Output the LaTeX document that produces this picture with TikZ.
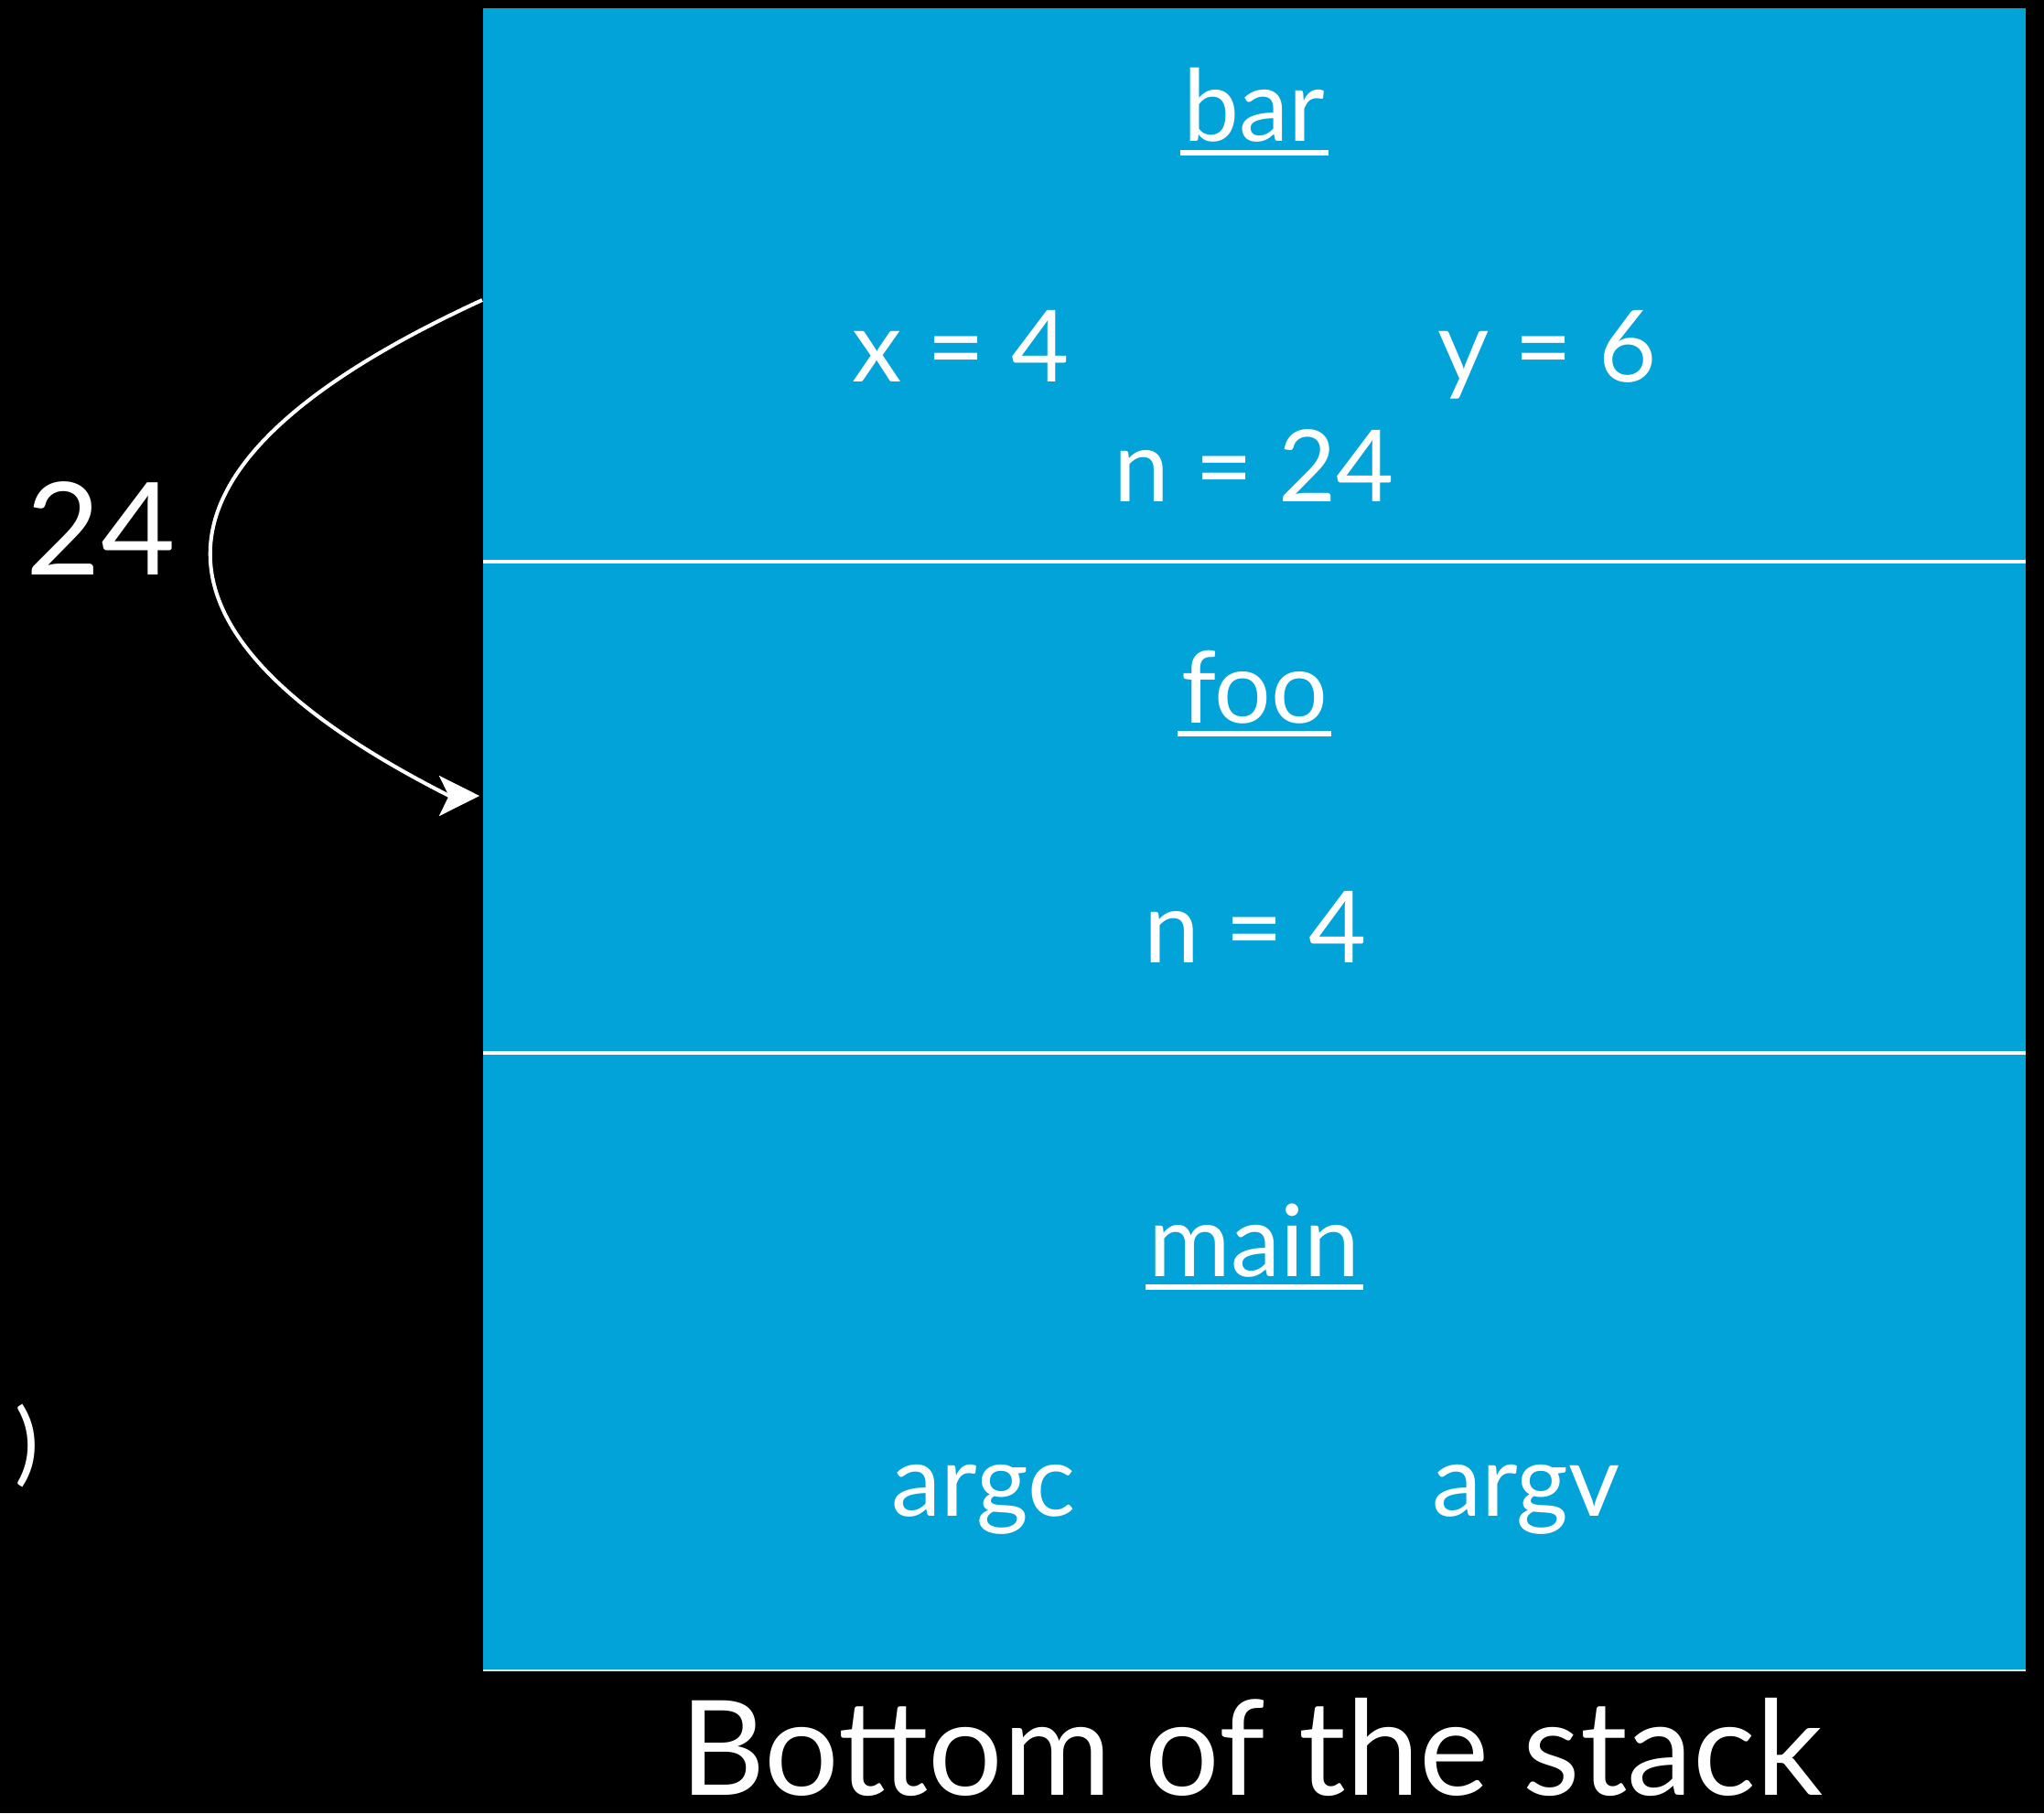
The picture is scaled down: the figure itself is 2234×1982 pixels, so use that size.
\documentclass[tikz,border=0pt]{standalone}
\usepackage{fontspec}
\setmainfont{Lato}
\usetikzlibrary{arrows.meta}
\definecolor{stackblue}{RGB}{2,163,216}
\begin{document}
\begin{tikzpicture}[x=0.01cm,y=0.01cm,
  lbl/.style={text=white, inner sep=0pt, anchor=base, font=\fontsize{31}{37}\selectfont},
  big/.style={text=white, inner sep=0pt, anchor=base, font=\fontsize{41}{49}\selectfont},
  ulline/.style={white, line width=1.5pt},
  sepline/.style={white, line width=1.4pt},
  retarrow/.style={white, line width=1.15pt, -{Stealth[length=12.5pt,width=12.5pt,inset=3pt]}}]
\fill[black] (0,0) rectangle (2234,-1982);
\useasboundingbox (0,0) rectangle (2234,-1982);
% stack frames
\fill[stackblue] (528,-9) rectangle (2214,-1826);
\draw[sepline] (528,-614) -- (2214,-614);
\draw[sepline] (528,-1151) -- (2214,-1151);
\draw[white, line width=0.8pt] (528,-1826) -- (2214,-1826);
% bar frame
\node[lbl] (bar) at (1371,-155) {bar};
\draw[ulline] ([xshift=-0.03cm,yshift=-0.12cm]bar.base west) -- ([xshift=0.03cm,yshift=-0.12cm]bar.base east);
\node[lbl] (barx) at (1050,-417) {x = 4};
\node[lbl] (bary) at (1691,-417) {y = 6};
\node[lbl] (barn) at (1371,-548) {n = 24};
% foo frame
\node[lbl] (foo) at (1371,-790) {foo};
\draw[ulline] ([xshift=-0.03cm,yshift=-0.12cm]foo.base west) -- ([xshift=0.03cm,yshift=-0.12cm]foo.base east);
\node[lbl] (foon) at (1372,-1052) {n = 4};
% main frame
\node[lbl] (main) at (1371,-1395) {main};
\draw[ulline] ([xshift=-0.03cm,yshift=-0.12cm]main.base west) -- ([xshift=0.03cm,yshift=-0.12cm]main.base east);
\node[lbl] (argc) at (1075,-1657) {argc};
\node[lbl] (argv) at (1668,-1657) {argv};
% left side
\node[text=white, inner sep=0pt, anchor=base, font=\fontsize{40}{48}\selectfont] (ret) at (110,-628) {24};
\node[text=white, inner sep=0pt, font=\fontsize{28}{34}\selectfont] (paren) at (30,-1581) {)};
\node[big] (bottom) at (1368,-1962) {Bottom of the stack};
% return arrow
\coordinate (retfrom) at (527,-328);
\coordinate (notch) at (491,-870);
\coordinate (retto) at (524,-870);
\draw[retarrow] (retfrom) .. controls (142,-505) and (132,-688) .. (notch) -- (retto);
\end{tikzpicture}
\end{document}
